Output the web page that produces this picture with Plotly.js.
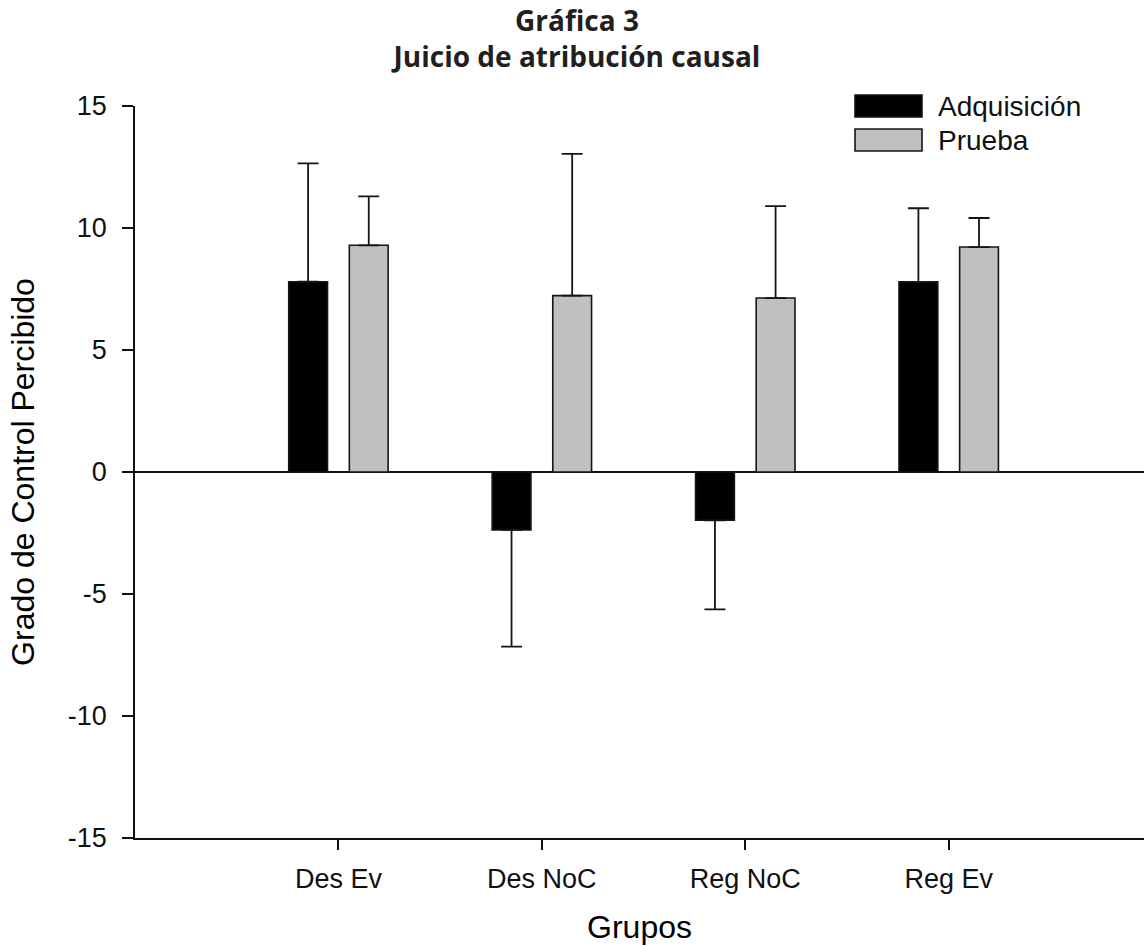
<!DOCTYPE html>
<html><head><meta charset="utf-8">
<script src="https://cdn.plot.ly/plotly-3.0.1.min.js"></script>
<style>html,body{margin:0;padding:0;background:#fff}</style>
</head><body><div id="chart" style="width:1144px;height:946px"></div>
<script>
// ---- data ----
const categories = ['Des Ev', 'Des NoC', 'Reg NoC', 'Reg Ev'];
const seriesNames = ['Adquisición', 'Prueba'];
const adquisicion = [7.80, -2.37, -1.98, 7.79];
const adquisicionErr = [4.85, 4.79, 3.65, 3.02];
const prueba = [9.29, 7.23, 7.13, 9.22];
const pruebaErr = [2.01, 5.81, 3.77, 1.19];
const yTicks = [-15, -10, -5, 0, 5, 10, 15];
const titleLines = ['Gráfica 3', 'Juicio de atribución causal'];
const xTitle = 'Grupos';
const yTitle = 'Grado de Control Percibido';

// ---- layout helpers ----
const W = 1144, H = 946;
const M = {l: 135, r: 0, t: 106, b: 108};
const px = x => (x - M.l) / (W - M.l - M.r);
const py = y => (H - M.b - y) / (H - M.t - M.b);
const fills = ['#000000', '#c0c0c0'];
const edge = '#151515';
const FONT = 'Liberation Sans, Arial, sans-serif';

function errUp(v, e) { return v.map((d, i) => d >= 0 ? e[i] : 0); }
function errDown(v, e) { return v.map((d, i) => d < 0 ? e[i] : 0); }

const series = [adquisicion, prueba];
const errs = [adquisicionErr, pruebaErr];
const traces = series.map((vals, k) => ({
  type: 'bar',
  name: seriesNames[k],
  x: categories,
  y: vals,
  marker: {color: fills[k], line: {color: edge, width: 1.6}},
  error_y: {
    type: 'data', symmetric: false,
    array: errUp(vals, errs[k]),
    arrayminus: errDown(vals, errs[k]),
    color: edge, thickness: 1.8, width: 10.5
  },
  showlegend: false,
  hoverinfo: 'x+y'
}));

// custom legend (wide swatches like the original)
const shapes = [];
const annotations = [];
const legendRows = [{y0: 95, y1: 117}, {y0: 129, y1: 151}];
legendRows.forEach((r, k) => {
  shapes.push({
    type: 'rect', xref: 'paper', yref: 'paper',
    x0: px(855), x1: px(922), y0: py(r.y1), y1: py(r.y0),
    fillcolor: fills[k], line: {color: edge, width: 1.6}
  });
  annotations.push({
    xref: 'paper', yref: 'paper', x: px(936), y: py((r.y0 + r.y1) / 2),
    xanchor: 'left', yanchor: 'middle', showarrow: false,
    text: seriesNames[k], font: {family: FONT, size: 28, color: '#111'}
  });
});

const layout = {
  width: W, height: H,
  margin: M,
  paper_bgcolor: '#fff', plot_bgcolor: '#fff',
  barmode: 'group', bargap: 0.404, bargroupgap: 0.36,
  title: {
    text: titleLines.join('<br>'),
    font: {family: 'Open Sans, sans-serif', size: 28, color: '#231f20', weight: 'bold'},
    xref: 'container', x: 577 / W, xanchor: 'center',
    yref: 'container', y: 1 - 31 / H, yanchor: 'middle'
  },
  xaxis: {
    type: 'category', range: [-1, 3.96],
    showline: true, linecolor: '#111', linewidth: 1.6,
    ticks: 'outside', ticklen: 10, tickwidth: 1.6, tickcolor: '#111',
    showgrid: false, zeroline: false,
    tickfont: {family: FONT, size: 27, color: '#111'},
    ticklabelstandoff: 6,
    title: {text: xTitle, font: {family: FONT, size: 32, color: '#000'}, standoff: 22}
  },
  yaxis: {
    range: [-15, 15], tickvals: yTicks, ticktext: yTicks.map(String),
    showline: true, linecolor: '#111', linewidth: 1.6,
    ticks: 'outside', ticklen: 11, tickwidth: 1.6, tickcolor: '#111',
    showgrid: false,
    zeroline: true, zerolinecolor: '#111', zerolinewidth: 1.6,
    tickfont: {family: FONT, size: 27, color: '#111'},
    ticklabelstandoff: 10,
    title: {text: yTitle, font: {family: FONT, size: 32, color: '#000'}, standoff: 24}
  },
  shapes: shapes,
  annotations: annotations
};

Plotly.newPlot('chart', traces, layout, {displayModeBar: false, responsive: false});
</script>
</body></html>
